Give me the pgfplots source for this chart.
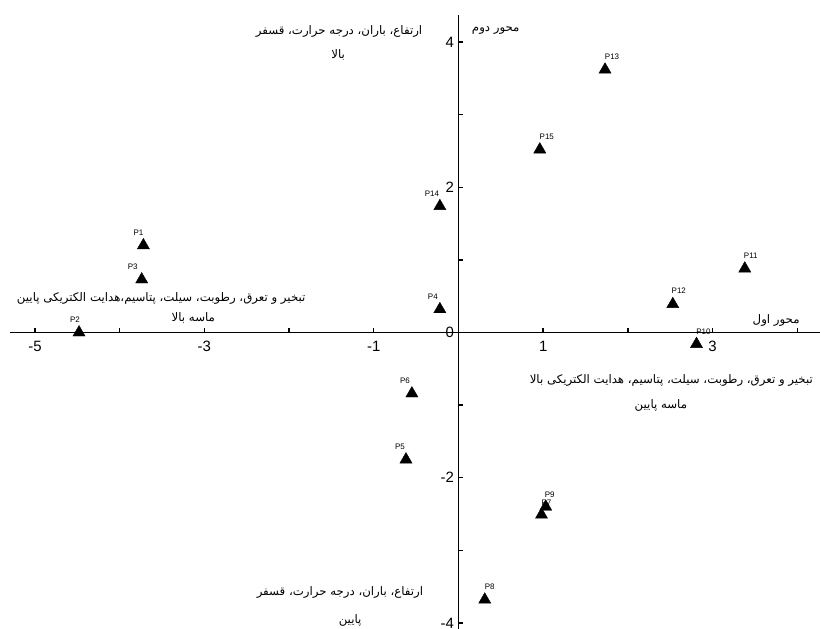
\documentclass[border=0pt]{standalone}
\usepackage{fontspec}
\setmainfont{Liberation Sans}
\newfontfamily\arabicfont[Script=Arabic]{DejaVu Sans}
\TeXXeTstate=1
\usepackage{pgfplots}
\usepackage{pgfplotstable}
\pgfplotsset{compat=1.18}

\pgfplotstableread{
x      y      label dx  dy
-3.72  1.20   P1    -5  13
-4.48  0.00   P2    -4  13
-3.74  0.73   P3    -9  13
-0.22  0.32   P4    -7  13
-0.62  -1.75  P5    -6  13
-0.55  -0.84  P6    -7  13
0.98   -2.51  P7    5   12
0.31   -3.68  P8    5   13
1.03   -2.40  P9    4   12
2.81   -0.16  P10   7   12
3.38   0.88   P11   6   13
2.53   0.39   P12   6   13
1.73   3.62   P13   7   13
-0.22  1.74   P14   -8  12
0.96   2.52   P15   7   13
}\points

\newcommand\fa{\arabicfont\fontsize{11.8}{13}\selectfont}

\begin{document}
\begin{tikzpicture}
\begin{axis}[
    x=84.7bp, y=72.6bp,
    axis lines=middle,
    axis line style={-, line width=1.6bp},
    enlargelimits=false,
    clip=false,
    xmin=-5.3, xmax=4.3,
    ymin=-4.1, ymax=4.37,
    xtick={-5,-4,-3,-2,-1,1,2,3,4},
    xticklabels={-5,,-3,,-1,1,,3,},
    ytick={-4,-3,-2,-1,0,1,2,3,4},
    yticklabels={-4,,-2,,0,,2,,4},
    hide obscured y ticks=false,
    tick align=inside,
    major tick length=5bp,
    tick style={line width=1.4bp, black},
    ticklabel style={font=\fontsize{15}{15}\selectfont},
    /pgf/number format/assume math mode=true,
    xticklabel style={yshift=-5bp},
    yticklabel style={xshift=-1bp},
]
\addplot[only marks, mark=triangle*, mark size=7bp, black,
    point meta=explicit symbolic,
    visualization depends on={\thisrow{dx} \as \labeldx},
    visualization depends on={\thisrow{dy} \as \labeldy},
    nodes near coords,
    nodes near coords style={anchor=center, font=\fontsize{8}{8}\selectfont,
        xshift=\labeldx bp, yshift=\labeldy bp}]
    table[x=x, y=y, meta=label] {\points};

\node[font=\fa] at (axis cs:-1.41,4.14) {\beginR ارتفاع، باران، درجه حرارت، قسفر\endR};
\node[font=\fa] at (axis cs:-1.42,3.82) {\beginR بالا\endR};
\node[font=\fa] at (axis cs:0.44,4.16) {\beginR محور دوم\endR};
\node[font=\fa] at (axis cs:-3.51,0.47) {\beginR تبخیر و تعرق، رطوبت، سیلت، پتاسیم،هدایت الکتریکی پایین\endR};
\node[font=\fa] at (axis cs:-3.13,0.20) {\beginR ماسه بالا\endR};
\node[font=\fa] at (axis cs:3.75,0.16) {\beginR محور اول\endR};
\node[font=\fa, anchor=west] at (axis cs:0.8,-0.66) {\beginR تبخیر و تعرق، رطوبت، سیلت، پتاسیم، هدایت الکتریکی بالا\endR};
\node[font=\fa] at (axis cs:2.39,-1.01) {\beginR ماسه پایین\endR};
\node[font=\fa] at (axis cs:-1.40,-3.58) {\beginR ارتفاع، باران، درجه حرارت، قسفر\endR};
\node[font=\fa] at (axis cs:-1.28,-3.96) {\beginR پایین\endR};

\coordinate (bl) at (axis cs:-5.413,-4.08);
\coordinate (tr) at (axis cs:4.268,4.58);
\end{axis}
\pgfresetboundingbox
\useasboundingbox (bl) rectangle (tr);
\end{tikzpicture}
\end{document}
